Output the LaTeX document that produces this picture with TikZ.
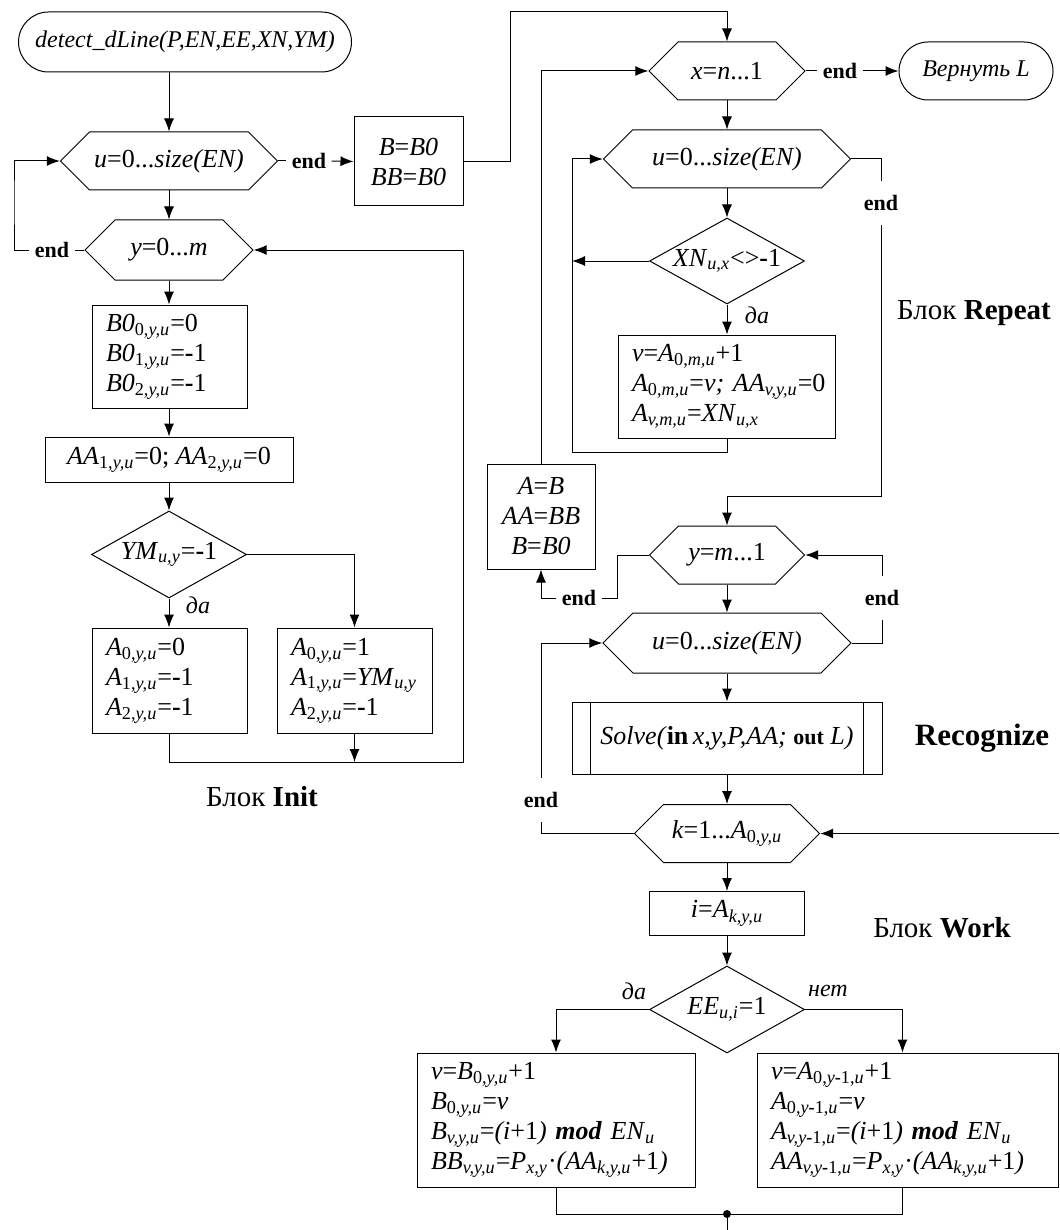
\documentclass[tikz,border=0pt]{standalone}
\usepackage{fontspec}
\setmainfont{Liberation Serif}
\usetikzlibrary{positioning,shapes.geometric,shapes.misc,shapes.symbols,arrows.meta,calc}

\newcommand{\lo}[1]{\textsubscript{#1}}
\newcommand{\bminus}{\textbf{-}}

\begin{document}
\begin{tikzpicture}[
    x=0.5pt, y=-0.5pt,
    font=\fontsize{13}{15}\selectfont,
    line/.style={line width=0.5pt},
    arr/.style={line width=0.5pt, -{Latex[length=6.5pt, width=5pt]}},
    term/.style={rounded rectangle, draw, line width=0.5pt, inner sep=2pt, minimum height=29pt, font=\fontsize{12}{14}\selectfont},
    hexa/.style={signal, signal to=west and east, signal pointer angle=90, draw, line width=0.5pt, inner sep=1pt, minimum height=29pt},
    block/.style={rectangle, draw, line width=0.5pt, inner xsep=7pt, inner ysep=3pt},
    decide/.style={diamond, draw, line width=0.5pt, aspect=1.8, inner sep=0pt, minimum width=77.5pt, minimum height=43.5pt},
    endl/.style={font=\bfseries\fontsize{11}{13}\selectfont, inner xsep=2.5pt, inner ysep=7pt},
    lbl/.style={font=\itshape\fontsize{12}{14}\selectfont},
    blk/.style={font=\fontsize{14.5}{17}\selectfont}
]
\useasboundingbox (0,0) rectangle (1059,1230);

% Block Init
\node[term, minimum width=170.5pt, minimum height=30pt] (start) at (185,42) {\textit{detect\_dLine(P,EN,EE,XN,YM)}};
\node[hexa, minimum width=108.5pt] (u1) at (169,161) {\textit{u}=0...\textit{size(EN)}};
\node[endl] (e1) at (309,161) {end};
\node[block, minimum width=54.5pt, minimum height=44.5pt, align=center] (bset) at (408.5,161.5) {\textit{B}=\textit{B0}\\\textit{BB}=\textit{B0}};
\node[hexa, minimum width=84pt, minimum height=30pt] (y1) at (169,250) {\textit{y}=0...\textit{m}};
\node[endl] (e2) at (52,250) {end};
\node[block, text width=63.5pt, minimum height=51.5pt, align=left] (binit) at (169.5,356.5) {\textit{B0}\lo{0,\textit{y,u}}=0\\\textit{B0}\lo{1,\textit{y,u}}=\bminus1\\\textit{B0}\lo{2,\textit{y,u}}=\bminus1};
\node[block, minimum width=124pt, minimum height=22.5pt] (aainit) at (169,459.5) {\textit{AA}\lo{1,\textit{y,u}}=0; \textit{AA}\lo{2,\textit{y,u}}=0};
\node[decide] (ymq) at (169,554.5) {\textit{YM}\lo{\textit{u,y}}=\bminus1};
\node[lbl] (d1) at (198,605) {да};
\node[block, text width=63.5pt, minimum height=52.5pt, align=left] (lbox) at (169.5,680.5) {\textit{A}\lo{0,\textit{y,u}}=0\\\textit{A}\lo{1,\textit{y,u}}=\bminus1\\\textit{A}\lo{2,\textit{y,u}}=\bminus1};
\node[block, text width=63.5pt, minimum height=52.5pt, align=left] (rbox) at (354.5,680.5) {\textit{A}\lo{0,\textit{y,u}}=1\\\textit{A}\lo{1,\textit{y,u}}=\textit{YM}\lo{\textit{u,y}}\\\textit{A}\lo{2,\textit{y,u}}=\bminus1};
\node[blk] (init) at (262,797) {Блок \textbf{Init}};

\coordinate (topr) at (510,12);
\coordinate (lloop) at (14,200);
\coordinate (ljoin) at (463,762);

% Block Repeat
\node[hexa, minimum width=78pt] (xhex) at (727,71) {\textit{x}=\textit{n}...1};
\node[endl] (e3) at (840,71) {end};
\node[term, minimum width=81pt] (ret) at (976,71) {\textit{Вернуть L}};
\node[hexa, minimum width=123.5pt] (u2) at (727,159) {\textit{u}=0...\textit{size(EN)}};
\node[endl] (e4) at (881,203) {end};
\node[decide, minimum height=43pt] (xnq) at (727,261) {\textit{XN}\lo{\textit{u,x}}<>\bminus1};
\node[lbl] (d2) at (757,315) {да};
\node[block, text width=94.5pt, minimum height=51.5pt, align=left] (vbox) at (726.5,386.5) {\textit{v}=\textit{A}\lo{0,\textit{m,u}}+1\\\textit{A}\lo{0,\textit{m,u}}=\textit{v;}~\textit{AA}\lo{\textit{v,y,u}}=0\\\textit{A}\lo{\textit{v,m,u}}=\textit{XN}\lo{\textit{u,x}}};
\node[blk] (repeat) at (974,313) {Блок \textbf{Repeat}};
\node[block, minimum width=54pt, minimum height=52.5pt, align=center] (abox) at (541,516.5) {\textit{A}=\textit{B}\\\textit{AA}=\textit{BB}\\\textit{B}=\textit{B0}};
\node[hexa, minimum width=77.5pt] (y2) at (727,555) {\textit{y}=\textit{m}...1};
\node[endl] (e5) at (579,598) {end};
\node[endl] (e6) at (882,598) {end};

\coordinate (rj) at (727,496);
\coordinate (iback) at (572,452);

% Block Recognize
\node[hexa, minimum width=124pt, minimum height=30pt] (u3) at (727,643) {\textit{u}=0...\textit{size(EN)}};
\node[block, minimum width=155pt, minimum height=36pt] (solve) at (727,738) {\textit{Solve(}\textbf{in}\,\textit{x,y,P,AA;} {\bfseries\fontsize{11}{12}\selectfont out} \textit{L)}};
\node[font=\bfseries\fontsize{15.5}{18}\selectfont] (recog) at (982,738) {Recognize};
\node[endl] (e7) at (541,800) {end};

% Block Work
\node[hexa, minimum width=92.5pt] (khex) at (727,833.5) {\textit{k}=1...\textit{A}\lo{0,\textit{y,u}}};
\node[block, minimum width=77.5pt, minimum height=22pt] (ibox) at (727,913.5) {\textit{i}=\textit{A}\lo{\textit{k,y,u}}};
\node[blk] (work) at (942,928) {Блок \textbf{Work}};
\node[decide] (eeq) at (727,1009.5) {\textit{EE}\lo{\textit{u,i}}=1};
\node[lbl] (d3) at (634,991) {да};
\node[lbl] (n3) at (828,991) {нет};
\node[block, text width=125pt, minimum height=67pt, align=left] (wl) at (556,1120) {\textit{v}=\textit{B}\lo{0,\textit{y,u}}+1\\\textit{B}\lo{0,\textit{y,u}}=\textit{v}\\\textit{B}\lo{\textit{v,y,u}}=\textit{(i}+1\textit{)} \textbf{\textit{mod}} \textit{EN}\lo{\textit{u}}\\\textit{BB}\lo{\textit{v,y,u}}=\textit{P}\lo{\textit{x,y}}·\textit{(AA}\lo{\textit{k,y,u}}+1\textit{)}};
\node[block, text width=136.5pt, minimum height=67pt, align=left] (wr) at (907.5,1120) {\textit{v}=\textit{A}\lo{0,\textit{y}\bminus1,\textit{u}}+1\\\textit{A}\lo{0,\textit{y}\bminus1,\textit{u}}=\textit{v}\\\textit{A}\lo{\textit{v,y}\bminus1,\textit{u}}=\textit{(i}+1\textit{)} \textbf{\textit{mod}} \textit{EN}\lo{\textit{u}}\\\textit{AA}\lo{\textit{v,y}\bminus1,\textit{u}}=\textit{P}\lo{\textit{x,y}}·\textit{(AA}\lo{\textit{k,y,u}}+1\textit{)}};

\coordinate (redge) at (1059,833.5);
\coordinate (dot) at (727,1214);
\coordinate (bottom) at (727,1230);

% Connectors, left column
\draw[arr] (u1.north |- start.south) -- (u1.north);
\draw[line] (u1.east) -- (e1.west);
\draw[arr] (e1.east) -- (bset.west);
\draw[arr] (bset.east) -| (topr) -| (xhex.north);
\draw[arr] (u1.south) -- (y1.north);
\draw[line] (y1.west) -- (e2.east);
\draw[arr] (e2.west) -| (lloop) |- (u1.west);
\draw[arr] (y1.south) -- (binit.north -| y1.south);
\draw[arr] (binit.south -| aainit.north) -- (aainit.north);
\draw[arr] (aainit.south) -- (ymq.north);
\draw[arr] (ymq.south) -- (lbox.north -| ymq.south);
\draw[arr] (ymq.east) -| (rbox.north);
\draw[arr] (lbox.south) |- (ljoin) |- (y1.east);
\draw[arr] (rbox.south) -- (rbox.south |- ljoin);

% Connectors, right column
\draw[line] (xhex.east) -- (e3.west);
\draw[arr] (e3.east) -- (ret.west);
\draw[arr] (xhex.south) -- (u2.north);
\draw[line] (u2.east) -| (e4.north);
\draw[arr] (e4.south) |- (rj) -- (y2.north);
\draw[arr] (u2.south) -- (xnq.north);
\draw[arr] (xnq.west) -- (xnq.west -| iback);
\draw[arr] (xnq.south) -- (vbox.north -| xnq.south);
\draw[line] (vbox.south -| xnq.south) |- (iback);
\draw[arr] (iback) |- (u2.west);
\draw[arr] (abox.north) |- (xhex.west);
\draw[line] (y2.west) -- ++(-31,0) |- (e5.east);
\draw[arr] (e5.west) -| (abox.south);
\draw[arr] (y2.south) -- (u3.north);
\draw[line] (u3.east) -| (e6.south);
\draw[arr] (e6.north) |- (y2.east);
\draw[arr] (u3.south) -- (solve.north);
\draw[line] ([xshift=9.5pt]solve.north west) -- ([xshift=9.5pt]solve.south west);
\draw[line] ([xshift=-9.5pt]solve.north east) -- ([xshift=-9.5pt]solve.south east);
\draw[arr] (solve.south) -- (khex.north);
\draw[line] (khex.west) -| (e7.south);
\draw[arr] (e7.north) |- (u3.west);
\draw[arr] (redge) -- (khex.east);
\draw[arr] (khex.south) -- (ibox.north);
\draw[arr] (ibox.south) -- (eeq.north);
\draw[arr] (eeq.west) -| (wl.north);
\draw[arr] (eeq.east) -| ([xshift=-2.5pt]wr.north);
\draw[line] (wl.south) |- (dot) -| ([xshift=-2.5pt]wr.south);
\fill (dot) circle (2pt);
\draw[line] (dot) -- (bottom);

\end{tikzpicture}
\end{document}
